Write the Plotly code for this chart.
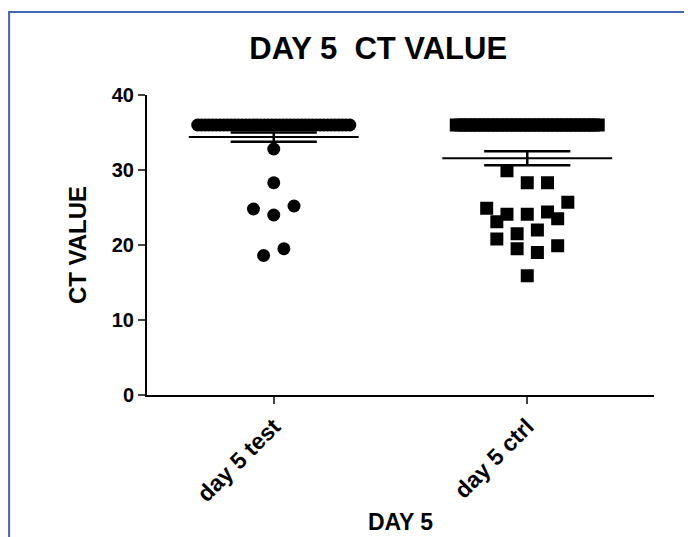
import numpy as np
import plotly.graph_objects as go

# ---- data ----
categories = ["day 5 test", "day 5 ctrl"]
test_high = [36.0] * 42
test_low = [32.8, 28.3, 24.8, 24.0, 25.2, 19.5, 18.6]
ctrl_high = [36.0] * 32
ctrl_low = [29.9, 28.3, 28.3, 24.9, 24.1, 24.1, 24.4, 25.7, 23.5, 23.1,
            20.8, 21.5, 22.0, 19.5, 19.0, 19.9, 15.9]
y_ticks = [0, 10, 20, 30, 40]

# ---- horizontal scatter offsets (layout of column scatter) ----
test_low_off = [0.0, 0.0, -0.08, 0.0, 0.08, 0.04, -0.04]
ctrl_low_off = [-0.08, 0.0, 0.08, -0.16, -0.08, 0.0, 0.08, 0.16, 0.12, -0.12,
                -0.12, -0.04, 0.04, -0.04, 0.04, 0.12, 0.0]

FONT = "Liberation Sans, Arial, sans-serif"

fig = go.Figure()

def add_group(pos, high, low, low_off, spread, symbol):
    xs = list(pos + np.linspace(-spread, spread, len(high))) + [pos + o for o in low_off]
    ys = list(high) + list(low)
    fig.add_trace(go.Scatter(x=xs, y=ys, mode="markers",
                             marker=dict(symbol=symbol, size=13, color="black",
                                         line=dict(width=0)),
                             showlegend=False, hoverinfo="y"))
    vals = np.array(ys)
    m = vals.mean()
    sem = vals.std(ddof=1) / np.sqrt(len(vals))
    # mean line
    fig.add_trace(go.Scatter(x=[pos - 0.335, pos + 0.335], y=[m, m], mode="lines",
                             line=dict(color="black", width=2), showlegend=False,
                             hoverinfo="skip"))
    # SEM whiskers
    for yv in (m - sem, m + sem):
        fig.add_trace(go.Scatter(x=[pos - 0.17, pos + 0.17], y=[yv, yv], mode="lines",
                                 line=dict(color="black", width=2.5), showlegend=False,
                                 hoverinfo="skip"))
    fig.add_trace(go.Scatter(x=[pos, pos], y=[m - sem, m + sem], mode="lines",
                             line=dict(color="black", width=2.5), showlegend=False,
                             hoverinfo="skip"))

add_group(0, test_high, test_low, test_low_off, 0.30, "circle")
add_group(1, ctrl_high, ctrl_low, ctrl_low_off, 0.28, "square")

# outer blue frame (left and top edges)
fig.add_shape(type="line", xref="paper", yref="paper", x0=-0.272, x1=-0.272,
              y0=-0.55, y1=1.277, line=dict(color="#4565b5", width=2))
fig.add_shape(type="line", xref="paper", yref="paper", x0=-0.274, x1=1.2,
              y0=1.277, y1=1.277, line=dict(color="#4565b5", width=2))

fig.update_layout(
    width=692, height=537,
    margin=dict(l=139, r=46, t=87, b=150),
    paper_bgcolor="white", plot_bgcolor="white",
    font=dict(family=FONT, color="black"),
    title=dict(text="DAY 5  CT VALUE", x=0.535, xanchor="center", xref="container",
               y=0.926, yanchor="middle", yref="container",
               font=dict(size=31, weight="bold", family=FONT)),
    xaxis=dict(range=[-0.5, 1.5], tickvals=[0, 1], ticktext=categories,
               tickangle=-45, ticks="outside", ticklen=7, tickwidth=2,
               showline=True, linewidth=2, linecolor="black", showgrid=False,
               zeroline=False, automargin=False,
               tickfont=dict(size=23, weight="bold", family=FONT),
               title=dict(text="DAY 5", font=dict(size=23, weight="bold", family=FONT),
                          standoff=8)),
    yaxis=dict(range=[0, 40], tickvals=y_ticks, ticks="outside", ticklen=7, tickwidth=2,
               showline=True, linewidth=2, linecolor="black", showgrid=False,
               zeroline=False, automargin=False,
               tickfont=dict(size=20, weight="bold", family=FONT),
               title=dict(text="CT VALUE", font=dict(size=24, weight="bold", family=FONT),
                          standoff=18)),
)

fig.write_html("out.html")
